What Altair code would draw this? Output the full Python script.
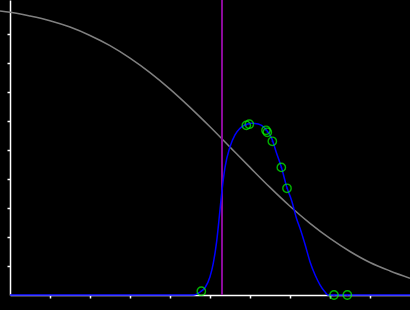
import altair as alt
import pandas as pd

# Gray decreasing curve (survival-like)
gray_x = [-0.25, 0, 0.5, 1, 1.5, 2, 2.5, 3, 3.5, 4, 4.5, 5, 5.5, 6, 6.5, 7, 7.5, 8, 8.5, 9, 9.5, 10]
gray_y = [0.979, 0.975, 0.962, 0.946, 0.924, 0.895, 0.860, 0.817, 0.767, 0.710, 0.647, 0.580,
          0.510, 0.440, 0.371, 0.306, 0.247, 0.195, 0.150, 0.112, 0.083, 0.058]

# Blue bell-shaped curve
blue_x = [0, 4.5, 4.583, 4.75, 4.875, 5.0, 5.083, 5.167, 5.233, 5.275, 5.325, 5.375, 5.5, 5.625,
          5.75, 5.917, 6.042, 6.208, 6.375, 6.542, 6.667, 6.792, 6.917, 7.042, 7.167, 7.25,
          7.375, 7.5, 7.625, 7.75, 7.875, 7.95, 8.5, 10]
blue_y = [0, 0, 0.0, 0.010, 0.025, 0.063, 0.110, 0.185, 0.270, 0.328, 0.390, 0.440, 0.511, 0.552,
          0.575, 0.589, 0.592, 0.590, 0.575, 0.540, 0.488, 0.437, 0.373, 0.325, 0.262, 0.230,
          0.175, 0.115, 0.070, 0.035, 0.010, 0.0, 0, 0]

# Green sample points
pt_x = [4.783, 5.908, 5.983, 6.4, 6.433, 6.558, 6.783, 6.925, 8.1, 8.433]
pt_y = [0.013, 0.585, 0.589, 0.568, 0.561, 0.530, 0.440, 0.368, 0.0, 0.0]

# Vertical marker
marker_x = [5.3]

x_ticks = [1, 2, 3, 4, 5, 6, 7, 8, 9]
y_ticks = [0.1, 0.2, 0.3, 0.4, 0.5, 0.6, 0.7, 0.8, 0.9]

gray_df = pd.DataFrame({"x": gray_x, "y": gray_y})
blue_df = pd.DataFrame({"x": blue_x, "y": blue_y})
pt_df = pd.DataFrame({"x": pt_x, "y": pt_y})
mk_df = pd.DataFrame({"x": marker_x})

xs = alt.Scale(domain=[0, 10], nice=False, zero=False)
ys = alt.Scale(domain=[0, 295 / 290], nice=False, zero=False)

axis_common = dict(labels=False, title=None, grid=False, domainColor="white", domainWidth=1.5,
                   tickColor="white", tickSize=3, tickWidth=1.5, labelOverlap=False)

X = alt.X("x:Q", scale=xs, axis=alt.Axis(values=x_ticks, tickCount=len(x_ticks), **axis_common))
Y = alt.Y("y:Q", scale=ys, axis=alt.Axis(values=y_ticks, tickCount=len(y_ticks), **axis_common))

gray = alt.Chart(gray_df).mark_line(color="#808080", strokeWidth=1.5, interpolate="monotone").encode(x=X, y=Y)
blue = alt.Chart(blue_df).mark_line(color="#0000ff", strokeWidth=1.5, interpolate="monotone").encode(x=X, y=Y)
marker = alt.Chart(mk_df).mark_rule(color="#8b0a9b", strokeWidth=2).encode(x=X)
pts = alt.Chart(pt_df).mark_point(shape="circle", color="#00ff00", size=70, strokeWidth=1.4, filled=False).encode(
    x=X, y=Y)
dots = alt.Chart(pt_df).mark_point(shape="circle", color="#0000ff", size=3, filled=True).encode(x=X, y=Y)

chart = alt.layer(gray, marker, blue, pts, dots).properties(
    width=400, height=295,
    autosize=alt.AutoSizeParams(type="none"),
    padding={"left": 10, "top": 0, "right": 0, "bottom": 15},
    background="black",
).configure_view(strokeWidth=0)

chart.save("out.html", embed_options={"renderer": "svg", "actions": False})
